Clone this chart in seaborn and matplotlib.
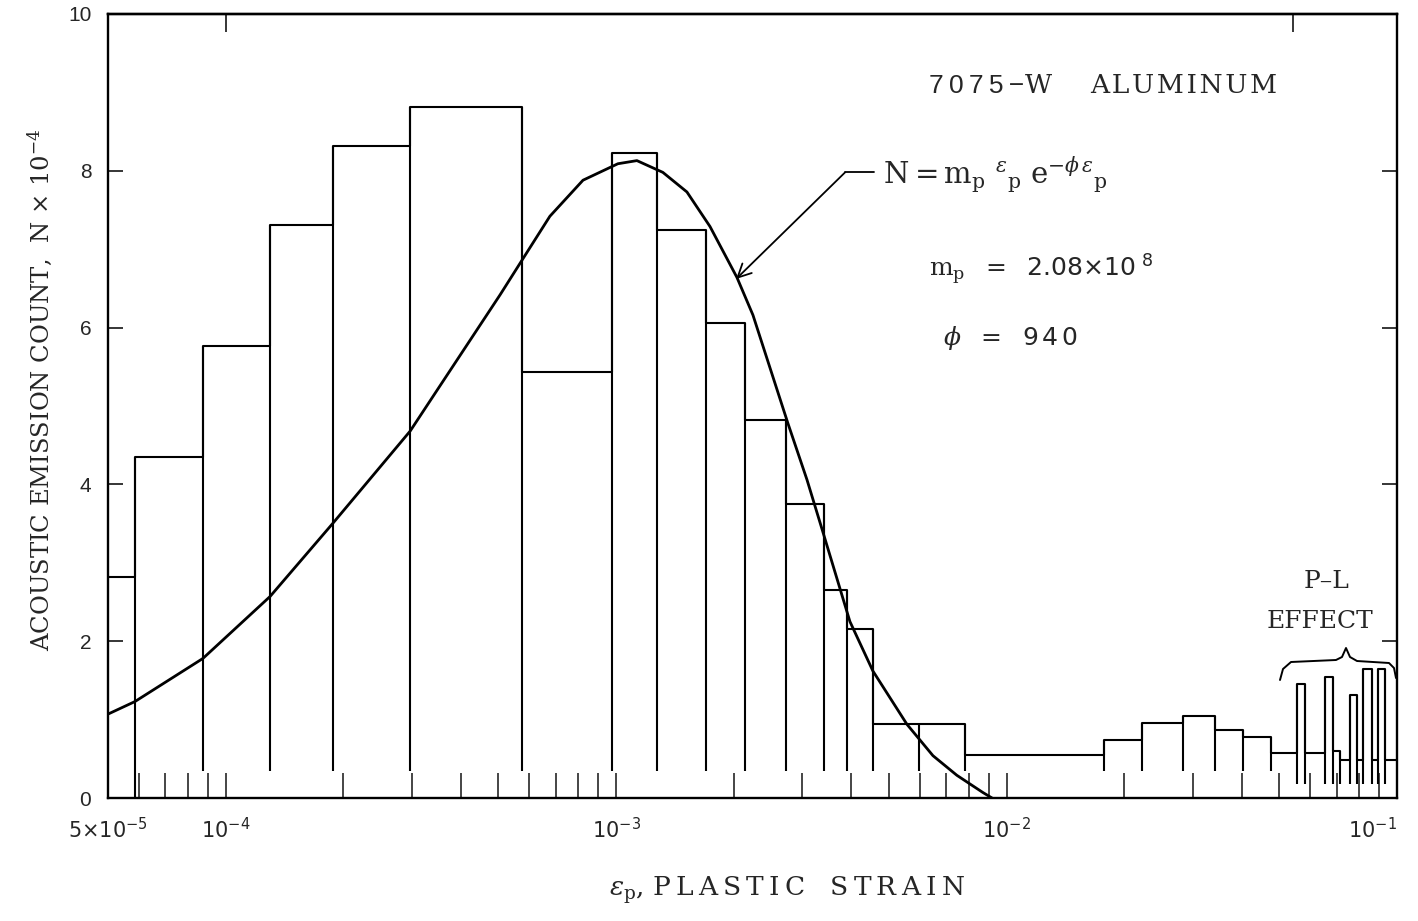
import numpy as np
import matplotlib
matplotlib.use("Agg")
import matplotlib.pyplot as plt
import seaborn as sns
from matplotlib.ticker import LogLocator, NullFormatter, NullLocator
from matplotlib.lines import Line2D

# ---------------- data ----------------
# histogram bin edges (plastic strain) and acoustic emission counts (N x 10^-4)
bin_edges = [5.0e-5, 5.86e-5, 8.75e-5, 1.30e-4, 1.88e-4, 2.97e-4, 5.74e-4, 9.77e-4,
             1.27e-3, 1.70e-3, 2.14e-3, 2.72e-3, 3.40e-3, 3.90e-3, 4.55e-3, 5.97e-3,
             7.83e-3, 1.78e-2, 2.22e-2, 2.83e-2, 3.42e-2, 4.03e-2, 4.75e-2, 5.54e-2,
             5.81e-2, 6.53e-2, 6.85e-2, 7.14e-2, 7.57e-2, 7.89e-2, 8.18e-2, 8.63e-2,
             8.94e-2, 9.31e-2, 1.0e-1]
bin_counts = [2.82, 4.35, 5.77, 7.31, 8.32, 8.82, 5.44, 8.23,
              7.24, 6.06, 4.82, 3.75, 2.65, 2.16, 0.95, 0.94,
              0.55, 0.74, 0.96, 1.05, 0.87, 0.78, 0.58, 1.45,
              0.58, 1.54, 0.60, 0.48, 1.32, 0.49, 1.64, 0.49,
              1.65, 0.49]

# fitted curve N = m_p eps_p exp(-phi eps_p)
fit_strain = [5.0e-5, 5.86e-5, 8.75e-5, 1.30e-4, 1.88e-4, 2.97e-4, 3.48e-4, 5.05e-4,
              6.02e-4, 6.77e-4, 8.23e-4, 1.011e-3, 1.131e-3, 1.318e-3, 1.519e-3,
              1.740e-3, 2.040e-3, 2.242e-3, 2.755e-3, 3.083e-3, 3.388e-3, 3.972e-3,
              4.548e-3, 5.559e-3, 6.48e-3, 7.46e-3, 8.70e-3, 9.18e-3]
fit_count = [1.07, 1.23, 1.78, 2.57, 3.50, 4.68, 5.20, 6.42,
             7.02, 7.42, 7.88, 8.09, 8.13, 7.98, 7.73,
             7.29, 6.64, 6.16, 4.78, 4.06, 3.39, 2.25,
             1.62, 0.94, 0.54, 0.29, 0.07, 0.0]

x_ticks = [5e-5, 1e-4, 1e-3, 1e-2, 1e-1]
x_tick_labels = [r"$5{\times}10^{-5}$", r"$10^{-4}$", r"$10^{-3}$", r"$10^{-2}$", r"$10^{-1}$"]
y_ticks = [0, 2, 4, 6, 8, 10]
y_tick_labels = ["0", "2", "4", "6", "8", "10"]
top_ticks = [1e-4, 5.4e-2]

# ---------------- style ----------------
sns.set_style("ticks", {"axes.edgecolor": "black"})
plt.rcParams["font.family"] = ["DejaVu Serif", "DejaVu Sans"]
plt.rcParams["mathtext.fontset"] = "dejavusans"

W, H = 1418, 921
TS = "\u2009"   # thin space
HS = "\u200a"   # hair space
fig = plt.figure(figsize=(W / 100, H / 100), dpi=100)
ax = fig.add_axes([108 / W, 1 - 798 / H, 1289 / W, 784 / H])
ax.set_xscale("log")
ax.set_xlim(5e-5, 1e-1)
ax.set_ylim(0, 10)

LW = 1.5
# histogram outline (top steps)
step_y = bin_counts + [bin_counts[-1]]
sns.lineplot(x=bin_edges, y=step_y, drawstyle="steps-post", estimator=None, sort=False,
             color="black", lw=LW, ax=ax, legend=False)
# bin boundaries drawn downwards
for i in range(1, len(bin_edges) - 1):
    top = max(bin_counts[i - 1], bin_counts[i])
    if i == 1:
        bottom = 0.0
    elif bin_edges[i] > 5e-2:
        bottom = 0.18
    else:
        bottom = 0.35
    ax.vlines(bin_edges[i], bottom, top, color="black", lw=LW)

# fitted curve
sns.lineplot(x=fit_strain, y=fit_count, estimator=None, sort=False,
             color="black", lw=2.0, ax=ax, legend=False)

# ---------------- axes / ticks ----------------
ax.set_xticks(x_ticks)
ax.set_xticklabels(x_tick_labels)
ax.xaxis.set_minor_locator(LogLocator(base=10, subs=np.arange(2, 10)))
ax.xaxis.set_minor_formatter(NullFormatter())
ax.tick_params(axis="x", which="both", direction="in", length=18, width=1.2,
               bottom=True, top=False, labelsize=15, pad=14)
ax.get_xticklabels()[-1].set_horizontalalignment("right")
ax.set_yticks(y_ticks)
ax.set_yticklabels(y_tick_labels)
ax.tick_params(axis="y", which="major", direction="in", length=11, width=1.3,
               left=True, right=True, labelsize=15, pad=12,
               labelfontfamily="Liberation Sans")
ax.set_xlabel("")
ax.set_ylabel("")
for s in ax.spines.values():
    s.set_linewidth(1.7)
    s.set_color("black")

sec = ax.secondary_xaxis("top")
sec.set_xticks(top_ticks)
sec.set_xticklabels(["", ""])
sec.xaxis.set_minor_locator(NullLocator())
sec.tick_params(axis="x", which="major", direction="in", length=13, width=1.3)
sec.spines["top"].set_linewidth(1.7)

# ---------------- labels ----------------
fig.text(40 / W, 1 - 390 / H, r"ACOUSTIC EMISSION COUNT,  N $\times$ 10$^{-4}$",
         rotation=90, ha="center", va="center", fontsize=17.5, math_fontfamily="dejavuserif")
xlab = TS.join("PLASTIC") + "   " + TS.join("STRAIN")
fig.text(787 / W, 1 - 890 / H, r"$\varepsilon_{\rm p}$, " + xlab,
         ha="center", va="center", fontsize=19, math_fontfamily="dejavuserif")

# title-like annotation: "7075-W ALUMINUM"
fig.text(929 / W, 1 - 93 / H, TS.join("7075") + TS + "\u2212", ha="left", va="baseline",
         fontsize=19, family="Liberation Sans")
fig.text(1025 / W, 1 - 93 / H, "W", ha="left", va="baseline", fontsize=19)
fig.text(1090 / W, 1 - 93 / H, HS.join("ALUMINUM"), ha="left", va="baseline", fontsize=19)

# equation and parameters
fig.text(883 / W, 1 - 183 / H,
         r"$\mathrm{N}{=}\mathrm{m}_{\mathrm{p}}\ {}^{\varepsilon}{}_{\mathrm{p}}\ "
         r"\mathrm{e}^{-\phi\,\varepsilon}{}_{\mathrm{p}}$",
         ha="left", va="baseline", fontsize=21, math_fontfamily="dejavuserif")
fig.text(929 / W, 1 - 276 / H,
         r"$\mathrm{m}_{\mathrm{p}}\ \ =\ \ \mathsf{2.08{\times}10}^{\ \mathsf{8}}$",
         ha="left", va="baseline", fontsize=18, math_fontfamily="dejavuserif")
fig.text(943 / W, 1 - 345 / H, r"$\phi\ \ =\ \ \mathsf{9\,4\,0}$",
         ha="left", va="baseline", fontsize=18, math_fontfamily="dejavuserif")

# leader arrow to the curve
arrow_tip = (2.03e-3, 6.62)
arrow_start = (3.86e-3, 7.98)
ax.annotate("", xy=arrow_tip, xytext=arrow_start,
            arrowprops=dict(arrowstyle="->", color="black", lw=1.3,
                            shrinkA=0, shrinkB=0, mutation_scale=24))
ax.plot([arrow_start[0], 4.58e-3], [arrow_start[1], arrow_start[1]], color="black", lw=1.3)

# P-L effect label with brace
fig.text(1327 / W, 1 - 582 / H, "P\u2013L", ha="center", va="center", fontsize=18)
fig.text(1320 / W, 1 - 621 / H, "EFFECT", ha="center", va="center", fontsize=18)
brace_px = [(1280, 680), (1283, 669), (1291, 662), (1336, 660), (1342, 657),
            (1346, 648), (1350, 657), (1357, 661), (1389, 663), (1394, 668), (1396, 678)]
bx = [p[0] / W for p in brace_px]
by = [1 - p[1] / H for p in brace_px]
fig.add_artist(Line2D(bx, by, transform=fig.transFigure, color="black", lw=1.4))

fig.savefig("out.png", dpi=100, facecolor="white")
